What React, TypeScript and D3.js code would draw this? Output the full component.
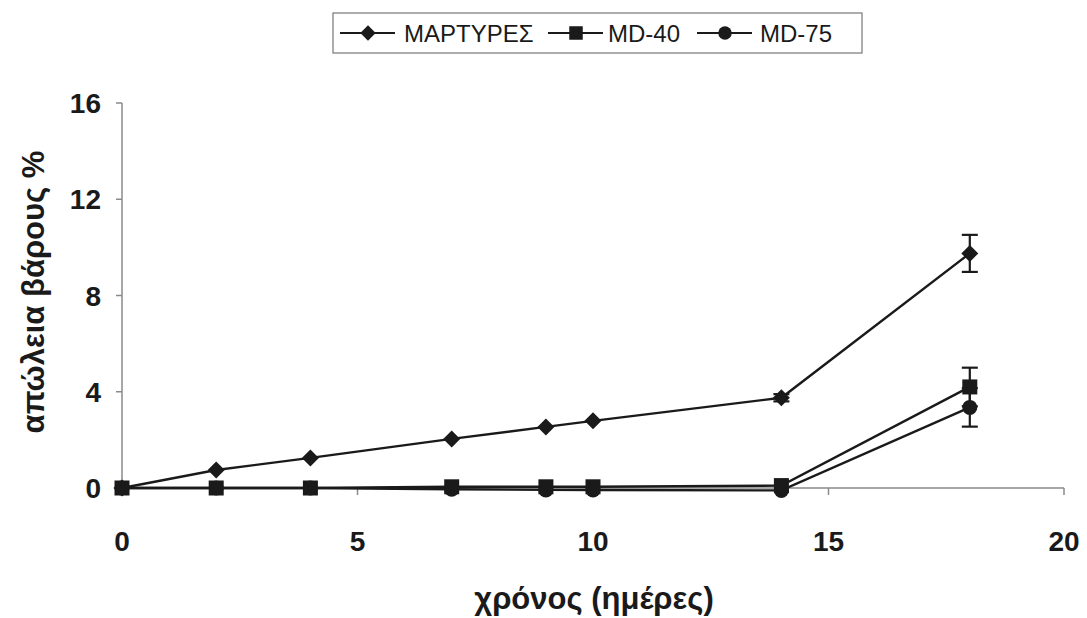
import React from "react";
import * as d3 from "d3";

const days = [0, 2, 4, 7, 9, 10, 14, 18];
const martyres = [0, 0.75, 1.25, 2.04, 2.54, 2.79, 3.75, 9.75];
const martyresErr = [0, 0, 0, 0, 0, 0, 0.15, 0.77];
const md40 = [0, 0, 0, 0.05, 0.05, 0.05, 0.1, 4.2];
const md40Err = [0, 0, 0, 0, 0, 0, 0, 0.8];
const md75 = [0, 0, 0, -0.05, -0.08, -0.08, -0.1, 3.35];
const md75Err = [0, 0, 0, 0, 0, 0, 0, 0.8];
const xTicks = [0, 5, 10, 15, 20];
const yTicks = [0, 4, 8, 12, 16];
const seriesNames = ["ΜΑΡΤΥΡΕΣ", "MD-40", "MD-75"];

const FONT = "'Liberation Sans', Arial, sans-serif";
const INK = "#1a1a1a";

function Marker({ type, x, y, scale = 1 }: { type: string; x: number; y: number; scale?: number }) {
  if (type === "diamond") {
    const r = 8.5 * scale;
    return <path d={`M${x},${y - r}L${x + r},${y}L${x},${y + r}L${x - r},${y}Z`} fill={INK} />;
  }
  if (type === "square") {
    const s = 15 * scale;
    return <rect x={x - s / 2} y={y - s / 2} width={s} height={s} fill={INK} />;
  }
  return <circle cx={x} cy={y} r={7.5 * scale} fill={INK} />;
}

export default function App() {
  const W = 1087, H = 618;
  const x = d3.scaleLinear().domain([0, 20]).range([122, 1064]);
  const y = d3.scaleLinear().domain([0, 16]).range([488, 103]);
  const line = d3.line<number>().x((_, i) => x(days[i])).y((v) => y(v));

  const series = [
    { name: seriesNames[0], vals: martyres, err: martyresErr, marker: "diamond" },
    { name: seriesNames[1], vals: md40, err: md40Err, marker: "square" },
    { name: seriesNames[2], vals: md75, err: md75Err, marker: "circle" },
  ];

  const legendItems = [
    { x0: 340, text: 404 },
    { x0: 548, text: 608 },
    { x0: 697, text: 760 },
  ];

  return (
    <svg width={W} height={H} style={{ position: "absolute", left: 0, top: 0, background: "#fff" }}>
      <rect x={0} y={0} width={W} height={H} fill="#fff" />
      {/* axes */}
      <line x1={x(0)} x2={x(0)} y1={y(16)} y2={y(0)} stroke="#8a8a8a" strokeWidth={1.5} />
      <line x1={x(0)} x2={x(20)} y1={y(0)} y2={y(0)} stroke="#8a8a8a" strokeWidth={1.5} />
      {yTicks.map((t) => (
        <g key={"y" + t}>
          <line x1={x(0) - 6} x2={x(0)} y1={y(t)} y2={y(t)} stroke="#8a8a8a" strokeWidth={1.5} />
          <text x={101} y={y(t)} dy="0.36em" textAnchor="end" fontFamily={FONT} fontWeight="bold" fontSize={28} fill={INK}>
            {t}
          </text>
        </g>
      ))}
      {xTicks.map((t) => (
        <g key={"x" + t}>
          <line x1={x(t)} x2={x(t)} y1={y(0)} y2={y(0) + 7} stroke="#8a8a8a" strokeWidth={1.5} />
          <text x={x(t)} y={551} textAnchor="middle" fontFamily={FONT} fontWeight="bold" fontSize={28} fill={INK}>
            {t}
          </text>
        </g>
      ))}
      {/* titles */}
      <text x={594} y={609} textAnchor="middle" fontFamily={FONT} fontWeight="bold" fontSize={31} fill={INK}>
        χρόνος (ημέρες)
      </text>
      <text
        transform={`translate(44,292) rotate(-90)`}
        textAnchor="middle"
        fontFamily={FONT}
        fontWeight="bold"
        fontSize={31}
        fill={INK}
      >
        απώλεια βάρους %
      </text>
      {/* series */}
      {series.map((s) => (
        <g key={s.name}>
          <path d={line(s.vals) || ""} fill="none" stroke={INK} strokeWidth={2.4} />
          {s.vals.map((v, i) =>
            s.err[i] > 0 ? (
              <g key={"e" + i} stroke={INK} strokeWidth={2.2}>
                <line x1={x(days[i])} x2={x(days[i])} y1={y(v - s.err[i])} y2={y(v + s.err[i])} />
                <line x1={x(days[i]) - 8} x2={x(days[i]) + 8} y1={y(v - s.err[i])} y2={y(v - s.err[i])} />
                <line x1={x(days[i]) - 8} x2={x(days[i]) + 8} y1={y(v + s.err[i])} y2={y(v + s.err[i])} />
              </g>
            ) : null
          )}
          {s.vals.map((v, i) => (
            <Marker key={"m" + i} type={s.marker} x={x(days[i])} y={y(v)} />
          ))}
        </g>
      ))}
      {/* legend */}
      <rect x={333} y={13} width={529} height={40} fill="#fff" stroke="#777" strokeWidth={1.2} />
      {series.map((s, i) => (
        <g key={"lg" + i}>
          <line x1={legendItems[i].x0} x2={legendItems[i].x0 + 55} y1={33} y2={33} stroke={INK} strokeWidth={2.2} />
          <Marker type={s.marker} x={legendItems[i].x0 + 28} y={33} scale={0.9} />
          <text x={legendItems[i].text} y={33} dy="0.36em" fontFamily={FONT} fontSize={24} fill={INK}>
            {s.name}
          </text>
        </g>
      ))}
    </svg>
  );
}
